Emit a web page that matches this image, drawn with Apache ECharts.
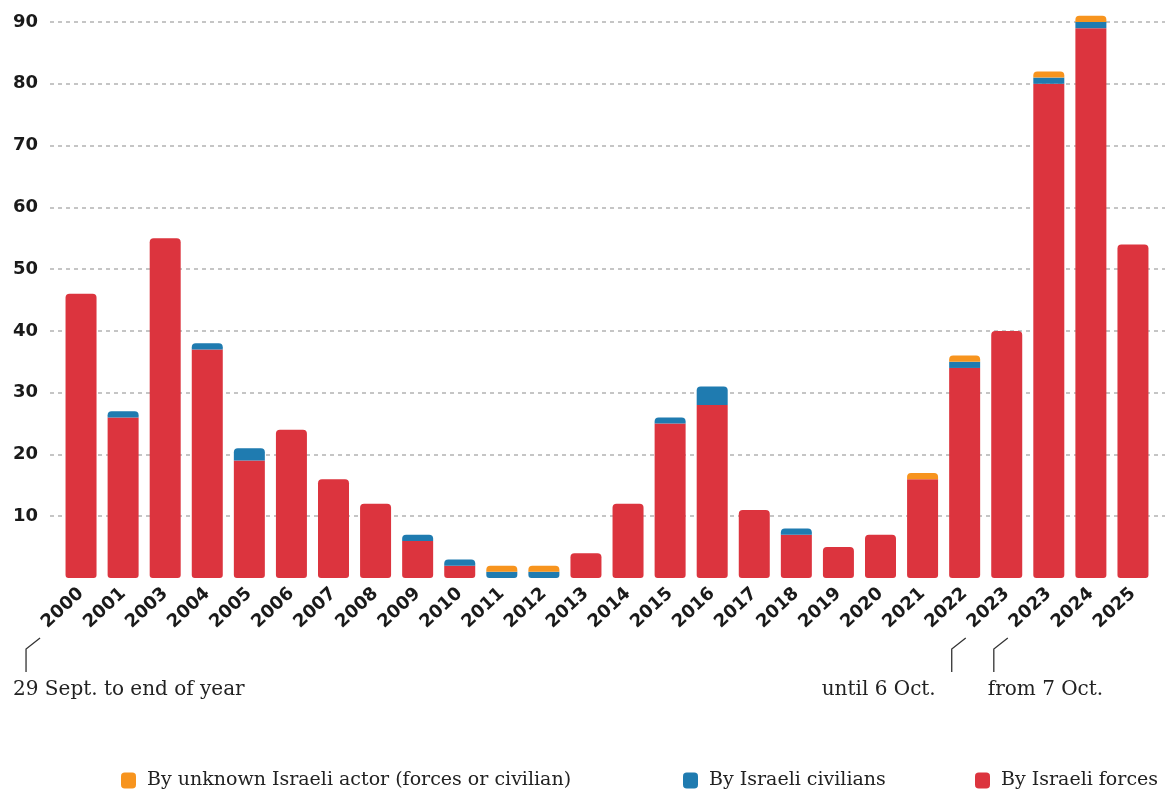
<!DOCTYPE html>
<html>
<head>
<meta charset="utf-8">
<script src="https://cdn.jsdelivr.net/npm/echarts@6/dist/echarts.min.js"></script>
<style>
  html, body { margin: 0; padding: 0; background: #ffffff; }
  #chart { width: 1165px; height: 798px; }
</style>
</head>
<body>
<div id="chart"></div>
<script>
// ---- data ----
const years = ['2000','2001','2003','2004','2005','2006','2007','2008','2009','2010','2011','2012','2013',
  '2014','2015','2016','2017','2018','2019','2020','2021','2022','2023','2023','2024','2025'];
const byForces    = [46,26,55,37,19,24,16,12,6,2,0,0,4,12,25,28,11,7,5,7,16,34,40,80,89,54];
const byCivilians = [0,1,0,1,2,0,0,0,1,1,1,1,0,0,1,3,0,1,0,0,0,1,0,1,1,0];
const byUnknown   = [0,0,0,0,0,0,0,0,0,0,1,1,0,0,0,0,0,0,0,0,1,1,0,1,1,0];
const seriesNames = ['By Israeli forces','By Israeli civilians','By unknown Israeli actor (forces or civilian)'];
const legendOrder = ['By unknown Israeli actor (forces or civilian)','By Israeli civilians','By Israeli forces'];
const yTicks = [0,10,20,30,40,50,60,70,80,90];
const noteIndex = [0, 22, 23];
const noteText = ['29 Sept. to end of year', 'until 6 Oct.', 'from 7 Oct.'];

// ---- styling ----
const colors = ['#dc343e', '#1f7bb0', '#f7941e'];
const stacks = [byForces, byCivilians, byUnknown];
const R = 4;
const legendLeft = [121, 683, 975];

function itemsFor(s) {
  return stacks[s].map(function (v, i) {
    let above = false, below = false;
    for (let k = s + 1; k < stacks.length; k++) if (stacks[k][i] > 0) above = true;
    for (let k = 0; k < s; k++) if (stacks[k][i] > 0) below = true;
    const t = above ? 0 : R, b = below ? 0 : 3;
    return { value: v, itemStyle: { borderRadius: [t, t, b, b] } };
  });
}

const chart = echarts.init(document.getElementById('chart'), null, { renderer: 'canvas' });

const TOP = 22, BOTTOM = 220;
const option = {
  animation: false,
  backgroundColor: '#ffffff',
  grid: [
    { left: 50, right: 0, top: TOP, bottom: BOTTOM },
    { left: 60, right: 11, top: TOP, bottom: BOTTOM }
  ],
  xAxis: [
    { gridIndex: 0, type: 'value', show: false },
    {
      gridIndex: 1, type: 'category', data: years,
      axisLine: { show: false }, axisTick: { show: false },
      axisLabel: {
        interval: 0, rotate: 43, margin: 13,
        fontFamily: 'DejaVu Sans', fontSize: 18, fontWeight: 'bold', color: '#1a1a1a'
      }
    }
  ],
  yAxis: [
    {
      gridIndex: 0, type: 'value', min: yTicks[0], max: yTicks[yTicks.length - 1], interval: 10,
      axisLine: { show: false }, axisTick: { show: false },
      axisLabel: {
        margin: 12, fontFamily: 'DejaVu Sans', fontSize: 18, fontWeight: 'bold', color: '#1a1a1a',
        formatter: function (v) { return v === 0 ? '' : String(v); }
      },
      splitLine: { show: true, showMinLine: false, lineStyle: { color: '#b3b3b3', width: 1.5, type: [4, 4] } }
    },
    {
      gridIndex: 1, type: 'value', min: yTicks[0], max: yTicks[yTicks.length - 1], interval: 10,
      show: false, splitLine: { show: false }
    }
  ],
  legend: legendOrder.map(function (name, i) {
    return {
      data: [name],
      left: legendLeft[i], top: 771, padding: 0,
      itemWidth: 15, itemHeight: 16,
      icon: 'roundRect',
      textStyle: { fontFamily: 'DejaVu Serif', fontSize: 19, color: '#222', padding: [0, 0, 0, 6] }
    };
  }),
  series: [0, 1, 2].map(function (s) {
    return {
      name: seriesNames[s], type: 'bar', stack: 'total',
      xAxisIndex: 1, yAxisIndex: 1, clip: false,
      barWidth: 31, color: colors[s],
      itemStyle: { color: colors[s] },
      data: itemsFor(s)
    };
  })
};
chart.setOption(option);

// ---- annotations with leader lines, positioned from the axis ----
const graphics = [];
noteIndex.forEach(function (idx, n) {
  const c = chart.convertToPixel({ xAxisIndex: 1 }, idx);
  const cx = c - 55;
  graphics.push({
    type: 'polyline',
    shape: { points: [[c - 41, 638], [cx, 649], [cx, 672]] },
    style: { stroke: '#333', lineWidth: 1.3, fill: null }
  });
  let x, align;
  if (n === 0) { x = cx - 13; align = 'left'; }
  else if (n === 1) { x = cx - 16; align = 'right'; }
  else { x = cx - 6; align = 'left'; }
  graphics.push({
    type: 'text', x: x, y: 690,
    style: {
      text: noteText[n], align: align, verticalAlign: 'middle',
      font: '20px "DejaVu Serif"', fill: '#222'
    }
  });
});
chart.setOption({ graphic: graphics });
</script>
</body>
</html>
